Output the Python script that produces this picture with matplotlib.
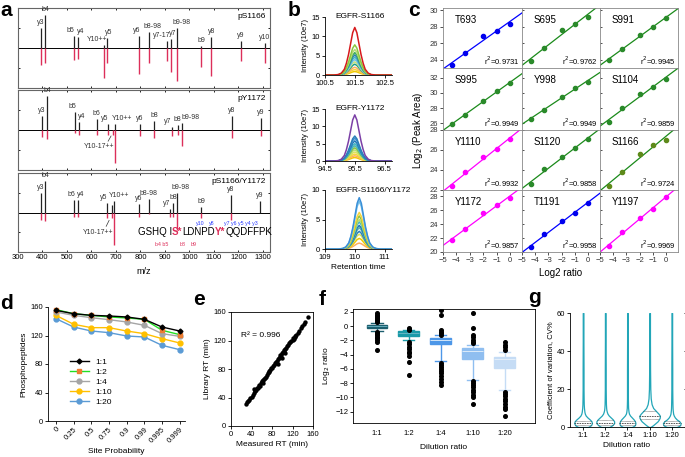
import numpy as np
import matplotlib.pyplot as plt

plt.rcParams['font.family'] = ['Liberation Sans', 'DejaVu Sans']
plt.rcParams['font.size'] = 6
plt.rcParams['axes.linewidth'] = 0.6
plt.rcParams['xtick.major.width'] = 0.6
plt.rcParams['ytick.major.width'] = 0.6
plt.rcParams['xtick.major.size'] = 2
plt.rcParams['ytick.major.size'] = 2
plt.rcParams['xtick.major.pad'] = 1.5
plt.rcParams['ytick.major.pad'] = 1.5
plt.rcParams['xtick.labelsize'] = 5.5
plt.rcParams['ytick.labelsize'] = 5.5

# ---------------- data ----------------
# panel a: (m/z, up intensity, down intensity, label)
spec1 = [(393, .50, .42, 'y3'), (412, .82, .38, 'b4'), (528, .30, .30, 'b5'), (545, .28, .28, 'y4'),
         (651, .08, .75, 'Y10++'), (663, .25, .38, 'y5'), (793, .30, .65, 'y6'), (836, .40, .38, 'b8-98'),
         (907, .18, .32, 'y7-17'), (926, .22, .60, 'y7'), (951, .50, .82, 'b9-98'), (1049, .05, .48, 'b9'),
         (1089, .28, .70, 'y8'), (1210, .18, .32, 'y9'), (1308, .12, .38, 'y10')]
spec2 = [(398, .35, .18, 'y3'), (418, .85, .22, 'b4'), (532, .45, .08, 'b5'), (548, .20, .12, 'y4'),
         (622, .28, .12, 'b6'), (667, .15, .12, 'y5'), (688, .0, .12, ''), (697, .15, .82, 'Y10++'),
         (797, .15, .15, 'y6'), (856, .22, .20, 'b8'), (927, .08, .15, 'y7'), (953, .12, .12, 'b8'),
         (971, .18, .40, 'b9-98'), (1173, .35, .20, 'y8'), (1292, .30, .15, 'y9')]
spec3 = [(393, .50, .20, 'y3'), (412, .80, .22, 'b4'), (528, .32, .12, 'b6'), (545, .32, .12, 'y4'),
         (663, .25, .15, 'y5'), (683, .18, .15, ''), (694, .30, .82, 'Y10++'), (793, .22, .12, 'y6'),
         (834, .35, .05, 'b8-98'), (922, .08, .12, 'y7'), (931, .25, .12, 'b8'), (950, .50, .45, 'b9-98'),
         (1049, .15, .15, 'b9'), (1170, .44, .20, 'y8'), (1288, .30, .0, 'y9')]
spec_titles = ['pS1166', 'pY1172', 'pS1166/Y1172']
mz_ticks = [300, 400, 500, 600, 700, 800, 900, 1000, 1100, 1200, 1300]

# panel b: peak profile shape (relative rt offset, relative intensity) and peak heights
prof_x = [-1.3, -0.70, -0.55, -0.45, -0.35, -0.28, -0.21, -0.14, -0.07, 0.0, 0.07, 0.14, 0.21,
          0.28, 0.35, 0.45, 0.55, 0.70, 1.4]
prof_y = [0, 0.00, 0.01, 0.04, 0.12, 0.25, 0.43, 0.66, 0.89, 1.00, 0.89, 0.66, 0.43,
          0.25, 0.12, 0.04, 0.01, 0.00, 0]
b_titles = ['EGFR-S1166', 'EGFR-Y1172', 'EGFR-S1166/Y1172']
b_centers = [101.5, 95.5, 110.15]
b_starts = [100.5, 94.5, 109]
b_ymax = [15, 15, 10]
b1_heights = [12.3, 7.8, 6.6, 5.8, 5.2, 4.6, 4.0, 3.4, 2.8, 2.0, 1.4, 0.9]
b1_colors = ['#d7191c', '#8cc63f', '#b5dd74', '#41ab5d', '#2c7fb8', '#41b6c4', '#74c0e8',
             '#c7e37a', '#1f9e89', '#fdae61', '#f6d43c', '#f0c800']
b2_heights = [13.3, 7.2, 6.6, 5.8, 5.0, 4.4, 3.8, 3.2, 2.6, 2.0, 1.5, 1.0]
b2_colors = ['#7b3fa6', '#2c7fb8', '#3d8fd0', '#1f78b4', '#41b6c4', '#5ab4ac', '#8cc63f',
             '#b5dd74', '#d9e35a', '#f6d43c', '#fdae61', '#f0c800']
b3_heights = [8.7, 8.1, 6.2, 5.6, 5.0, 4.6, 4.0, 3.6, 3.0, 2.5, 1.8, 1.0]
b3_colors = ['#3a8fd8', '#74c0e8', '#f6d43c', '#8cc63f', '#b5dd74', '#41b6c4', '#1f78b4',
             '#5ab4ac', '#2c7fb8', '#d9e35a', '#f0c800', '#fdae61']

# panel c
c_x = [-4.32, -3.32, -2, -1, 0]
c_names = [['T693', 'S695', 'S991'], ['S995', 'Y998', 'S1104'],
           ['Y1110', 'S1120', 'S1166'], ['Y1172', 'T1191', 'Y1197']]
c_r2 = [['0.9731', '0.9762', '0.9945'], ['0.9949', '0.9949', '0.9859'],
        ['0.9932', '0.9858', '0.9724'], ['0.9857', '0.9958', '0.9969']]
c_vals = {
    'T693': [23.4, 24.8, 26.9, 27.5, 28.3],
    'S695': [23.9, 25.4, 27.6, 28.3, 29.2],
    'S991': [24.0, 25.3, 27.0, 28.0, 29.0],
    'S995': [25.9, 27.1, 29.0, 30.2, 31.3],
    'Y998': [26.6, 27.8, 29.4, 30.7, 31.5],
    'S1104': [26.2, 28.0, 29.8, 30.8, 31.9],
    'Y1110': [22.4, 23.8, 25.3, 26.1, 27.1],
    'S1120': [22.6, 24.1, 25.3, 26.2, 27.1],
    'S1166': [22.4, 23.8, 25.6, 26.5, 27.0],
    'Y1172': [21.7, 23.3, 25.6, 26.8, 27.7],
    'T1191': [20.7, 22.6, 24.4, 25.6, 27.1],
    'Y1197': [20.9, 22.8, 24.9, 26.2, 27.9],
}
c_kind = {'T693': 'blue', 'T1191': 'blue', 'Y1110': 'mag', 'Y1172': 'mag', 'Y1197': 'mag'}
c_ylims = [(23.0, 30.25), (25.1, 33.3), (22, 28), (20, 28.9)]
c_yticks = [[24, 26, 28, 30], [26, 28, 30, 32], [22, 24, 26, 28], [20, 22, 24, 26, 28]]

# panel d
d_cats = ['0', '0.25', '0.5', '0.75', '0.9', '0.99', '0.995', '0.999']
d_series = {
    '1:1': [155.3, 150.6, 148.3, 147.4, 146.0, 142.7, 131.9, 126.3],
    '1:2': [156.3, 150.6, 148.3, 146.0, 144.6, 142.7, 127.3, 121.2],
    '1:4': [153.0, 148.3, 145.0, 142.2, 139.0, 134.3, 122.6, 118.8],
    '1:10': [148.3, 135.7, 131.0, 131.0, 126.3, 122.6, 115.6, 109.5],
    '1:20': [143.6, 131.9, 126.3, 124.0, 119.3, 117.9, 106.2, 100.1],
}

# panel e
meas_rt = [30, 32, 34, 36, 38, 40, 42, 44, 45, 47, 48, 50, 52, 54, 55, 57, 58, 60, 61, 63, 65, 66,
           68, 70, 72, 74, 75, 77, 79, 80, 82, 84, 85, 87, 88, 90, 91, 93, 95, 96, 98, 100, 101, 103,
           104, 106, 108, 110, 112, 114, 116, 118, 120, 122, 124, 125, 127, 130, 133, 136, 139, 142,
           145, 150, 46, 62, 92, 99, 105, 121]
lib_rt = [31, 33, 35, 37, 40, 41, 44, 46, 52, 49, 51, 53, 54, 56, 57, 56, 60, 63, 62, 64, 66, 68,
          69, 72, 74, 76, 77, 79, 81, 82, 84, 86, 88, 89, 90, 91, 94, 95, 97, 99, 100, 102, 104, 104,
          107, 108, 110, 112, 114, 116, 118, 120, 121, 122, 125, 126, 128, 131, 134, 137, 141, 143,
          146, 153, 50, 60, 87, 96, 103, 124]

# panel f: box statistics of log2 ratio
f_labels = ['1:1', '1:2', '1:4', '1:10', '1:20']
f_med = [0.0, -1.0, -1.9, -3.5, -4.6]
f_q1 = [-0.33, -1.35, -2.55, -4.6, -5.9]
f_q3 = [0.22, -0.75, -1.65, -3.1, -4.3]
f_lo = [-0.7, -2.0, -4.9, -7.5, -9.0]
f_hi = [0.5, -0.6, -1.3, -2.6, -3.6]
f_fliers = [
    [1.8, 1.6, 1.4, 1.25, 1.1, 1.0, 0.9, 0.8, 0.7, 0.6, -0.8, -0.95, -1.1, -1.3, -1.5, -1.7, -2.0, -2.3, -3.4],
    [-0.25, -0.35, -0.5, -2.2, -2.5, -2.9, -3.2, -3.6, -3.8, -4.2, -5.0, -6.9],
    [2.2, 1.5, -0.6, -0.8, -1.0, -1.2, -5.2, -5.5, -5.8, -6.0, -6.3, -6.6, -7.0, -7.4, -7.8, -8.2],
    [1.8, -0.2, -1.2, -1.5, -1.9, -2.2, -2.4, -7.7, -8.0, -8.2, -8.5, -9.0, -9.3, -9.6, -10.0, -10.9],
    [-2.2, -2.6, -3.0, -3.3, -9.2, -9.5, -9.8, -10.2, -10.5, -10.9, -11.3, -11.7, -12.6],
]
f_colors = ['#1b5e6e', '#1a9aa8', '#4d97e8', '#8fbef0', '#c5dcf5']

# panel g: violin half-width profiles of CV%
g_levels = [0, 0.5, 1, 2, 3, 4, 5, 6, 7, 8, 9, 10, 12, 15, 20, 30, 45, 60]
g_widths = [
    [0.22, 0.30, 0.36, 0.40, 0.38, 0.30, 0.20, 0.12, 0.08, 0.06, 0.05, 0.04, 0.03, 0.025, 0.02, 0.02, 0.015, 0.015],
    [0.18, 0.26, 0.32, 0.40, 0.40, 0.34, 0.25, 0.16, 0.10, 0.07, 0.05, 0.04, 0.03, 0.025, 0.02, 0.02, 0.015, 0.015],
    [0.20, 0.28, 0.34, 0.36, 0.34, 0.28, 0.20, 0.12, 0.07, 0.05, 0.04, 0.03, 0.025, 0.02, 0.02, 0.02, 0.015, 0.015],
    [0.04, 0.10, 0.16, 0.26, 0.36, 0.42, 0.46, 0.46, 0.40, 0.32, 0.24, 0.16, 0.09, 0.05, 0.03, 0.02, 0.015, 0.015],
    [0.22, 0.32, 0.38, 0.40, 0.34, 0.22, 0.14, 0.09, 0.06, 0.05, 0.04, 0.035, 0.03, 0.025, 0.02, 0.02, 0.015, 0.015],
]
g_med = [2.0, 2.2, 2.0, 6.0, 2.0]
g_q1 = [1.2, 1.3, 1.2, 4.2, 1.0]
g_q3 = [3.2, 3.5, 3.3, 8.2, 3.0]

# ---------------- layout ----------------
W, H = 685, 457
fig = plt.figure(figsize=(6.85, 4.57), dpi=100)


def px_axes(x0, y0, x1, y1):
    return fig.add_axes([x0 / W, 1 - y1 / H, (x1 - x0) / W, (y1 - y0) / H])


def letter(x, y, s):
    fig.text(x / W, 1 - y / H, s, fontsize=15, fontweight='bold', va='baseline')


RED = '#dc2f5a'
# horizontal label nudges (m/z units) so peak labels do not collide
nudge = [{528: -14, 545: 10, 651: -28, 663: 6, 793: -10, 836: 14, 907: -22, 926: 6, 951: 16},
         {532: -8, 548: 10, 667: -14, 697: 26, 927: -14, 953: -2, 971: 34},
         {528: -12, 545: 10, 663: -14, 694: 20, 922: -16, 931: 4, 950: 14}]

# ---- a: spectra ----
box_rows = [(8, 88), (90, 170), (173, 252)]
for k, (spec, title) in enumerate(zip([spec1, spec2, spec3], spec_titles)):
    ax = px_axes(18, box_rows[k][0], 270, box_rows[k][1])
    ax.set_xlim(300, 1329)
    ax.set_ylim(-1, 1)
    ax.axhline(0, color='k', lw=0.7)
    for mz, up, dn, lab in spec:
        if up > 0:
            ax.vlines(mz, 0, up, color='#222222', lw=0.9)
        if dn > 0:
            ax.vlines(mz, -dn, 0, color=RED, lw=1.0)
        if lab:
            ax.text(mz + nudge[k].get(mz, 0), up + 0.05, lab, fontsize=5, ha='center',
                    va='bottom', color='#333333')
    ax.text(0.985, 0.89, title, transform=ax.transAxes, ha='right', va='center', fontsize=6)
    ax.set_xticks(mz_ticks)
    ax.set_yticks([-1, -0.5, 0, 0.5, 1])
    ax.tick_params(direction='in', length=1.5, labelleft=False, top=True, right=True,
                   labelbottom=(k == 2))
    for s in ax.spines.values():
        s.set_color('#666666')
        s.set_linewidth(0.8)
    if k == 2:
        ax.set_xlabel('m/z', fontsize=6.5, labelpad=4)
        # annotated peptide sequence
        t = ax.text(790, -0.5, 'GSHQ I', fontsize=7, va='center')
        for seg, col in [('S*', RED), ('LDNPD', 'k'), ('Y*', RED), ('QQDFFPK', 'k')]:
            t = ax.annotate(seg, xycoords=t, xy=(1, 0), va='bottom', fontsize=7, color=col,
                            fontweight='bold' if col == RED else 'normal')
        for x, s in [(1043, 'y10'), (1090, 'y8'), (1210, 'y7 y6 y5 y4 y3')]:
            ax.text(x, -0.27, s, fontsize=3.8, color='#2b3cff', ha='center', va='center')
        for x, s in [(888, 'b4 b5'), (973, 'b8'), (1018, 'b9')]:
            ax.text(x, -0.82, s, fontsize=3.8, color=RED, ha='center', va='center')
        ax.text(628, -0.5, 'Y10-17++', fontsize=5, ha='center', va='center', color='#333333')
        ax.plot([660, 672], [-0.35, -0.2], color='#333333', lw=0.5)
    if k == 1:
        ax.text(630, -0.42, 'Y10-17++', fontsize=5, ha='center', va='center', color='#333333')
        ax.plot([668, 680], [-0.28, -0.15], color='#333333', lw=0.5)
letter(0, 16, 'a')

# ---- b: chromatograms ----
b_rows = [(17, 75), (109, 161), (190, 249)]
for k in range(3):
    ax = px_axes(325, b_rows[k][0], 392, b_rows[k][1])
    heights = [b1_heights, b2_heights, b3_heights][k]
    colors = [b1_colors, b2_colors, b3_colors][k]
    c0 = b_centers[k]
    for h, col in list(zip(heights, colors))[::-1]:
        ax.plot([c0 + dx for dx in prof_x], [h * p for p in prof_y], color=col, lw=1.1)
    ax.set_xlim(b_starts[k], b_starts[k] + 2.25)
    ax.set_ylim(0, b_ymax[k])
    ax.set_xticks([b_starts[k], b_starts[k] + 1, b_starts[k] + 2])
    if k < 2:
        ax.set_xticklabels(['%.1f' % v for v in ax.get_xticks()])
        ax.set_yticks([0, 5, 10, 15])
    else:
        ax.set_xticklabels(['109', '110', '111'])
        ax.set_yticks([0, 5, 10])
    ax.spines['top'].set_visible(False)
    ax.spines['right'].set_visible(False)
    ax.set_ylabel('Intensity (10e7)', fontsize=5.5, labelpad=2)
    ax.text(0.16, 1.0, b_titles[k], transform=ax.transAxes, fontsize=6, va='center')
    if k == 2:
        ax.set_xlabel('Retention time', fontsize=6, labelpad=2)
letter(288, 16, 'b')

# ---- c: linearity ----
col_edges = [443, 522, 600, 678]
row_edges = [8, 68, 130, 190, 252]
cmap_line = {'blue': '#0000ff', 'mag': '#ff00ff', 'green': '#1a8a1a'}
cmap_pt = {'blue': '#0000ee', 'mag': '#ff00ff', 'green': '#2a8a2a'}
for r in range(4):
    for cidx in range(3):
        ax = px_axes(col_edges[cidx], row_edges[r], col_edges[cidx + 1], row_edges[r + 1])
        name = c_names[r][cidx]
        kind = c_kind.get(name, 'green')
        ys = c_vals[name]
        slope, icpt = np.polyfit(c_x, ys, 1)
        xl = np.array([-5.5, 1.5])
        ax.plot(xl, slope * xl + icpt, color=cmap_line[kind], lw=0.9)
        pc = '#5e8a1a' if name == 'S1166' else cmap_pt[kind]
        ax.plot(c_x, ys, 'o', color=pc, ms=3)
        ax.set_xlim(-5, 0.9)
        ax.set_ylim(*c_ylims[r])
        ax.set_yticks(c_yticks[r])
        ax.set_xticks([-5, -4, -3, -2, -1, 0])
        ax.text(0.15, 0.8, name, transform=ax.transAxes, fontsize=7, va='center')
        ax.text(0.97, 0.12, 'r$^2$=' + c_r2[r][cidx], transform=ax.transAxes, fontsize=5.5,
                ha='right', va='center')
        for s in ax.spines.values():
            s.set_color('#888888')
        ax.tick_params(labelbottom=(r == 3), bottom=(r == 3), labelleft=(cidx == 0),
                       direction='out', colors='#333333')
        if cidx > 0:
            ax.tick_params(axis='y', direction='in', length=1.5)
        if r == 3 and cidx == 1:
            ax.set_xlabel('Log2 ratio', fontsize=7, labelpad=3)
fig.text(418 / W, 1 - 130 / H, 'Log$_2$ (Peak Area)', rotation=90, fontsize=7,
         ha='center', va='center')
letter(408, 16, 'c')

# ---- d: site probability ----
ax = px_axes(48, 307, 185, 421)
d_style = {
    '1:1': dict(color='black', marker='D', mfc='black', mec='black', ms=2.5),
    '1:2': dict(color='#22e022', marker='s', mfc='#ed7d31', mec='#ed7d31', ms=3.5),
    '1:4': dict(color='#a5a5a5', marker='o', mfc='#a5a5a5', mec='#a5a5a5', ms=3.5),
    '1:10': dict(color='#ffc000', marker='o', mfc='#ffc000', mec='#ffc000', ms=3.5),
    '1:20': dict(color='#5b9bd5', marker='o', mfc='#5b9bd5', mec='#5b9bd5', ms=3.5),
}
xpos = np.arange(len(d_cats))
for lab in ['1:20', '1:10', '1:4', '1:2', '1:1']:
    ax.plot(xpos, d_series[lab], lw=1.0, label=lab, **d_style[lab])
h, l = ax.get_legend_handles_labels()
ax.legend(h[::-1], l[::-1], loc='upper left', bbox_to_anchor=(0.12, 0.6), frameon=False,
          fontsize=6, handlelength=2.2, labelspacing=0.25, borderpad=0.2)
ax.set_xlim(-0.45, 7.3)
ax.set_ylim(0, 160)
ax.set_yticks([0, 40, 80, 120, 160])
ax.set_xticks(xpos)
ax.set_xticklabels(d_cats, rotation=45, ha='right', rotation_mode='anchor')
ax.spines['top'].set_visible(False)
ax.spines['right'].set_visible(False)
ax.set_ylabel('Phosphopeptides', fontsize=6, labelpad=2)
ax.set_xlabel('Site Probability', fontsize=6, labelpad=3)
letter(0, 309, 'd')

# ---- e: retention time ----
ax = px_axes(231, 312, 313, 426)
ax.scatter(meas_rt, lib_rt, s=10, color='black', linewidths=0)
ax.set_xlim(0, 160)
ax.set_ylim(0, 160)
ax.set_xticks([0, 40, 80, 120, 160])
ax.set_yticks([0, 40, 80, 120, 160])
ax.text(0.12, 0.79, 'R² = 0.996', transform=ax.transAxes, fontsize=6, va='center')
ax.set_xlabel('Measured RT (min)', fontsize=6, labelpad=2)
ax.set_ylabel('Library RT (min)', fontsize=6, labelpad=2)
letter(193, 305, 'e')

# ---- f: log2 ratio boxes ----
ax = px_axes(353, 309, 535, 423)
stats = []
for i in range(5):
    stats.append(dict(med=f_med[i], q1=f_q1[i], q3=f_q3[i], whislo=f_lo[i], whishi=f_hi[i],
                      fliers=f_fliers[i], label=f_labels[i]))
pos = np.arange(1, 6)
bp = ax.bxp(stats, positions=pos, widths=0.65, patch_artist=True, showfliers=True,
            capwidths=0.35,
            flierprops=dict(marker='o', mfc='black', mec='black', ms=2.6, ls='none'))
for i in range(5):
    bp['boxes'][i].set_facecolor(f_colors[i])
    bp['boxes'][i].set_edgecolor(f_colors[i])
    bp['medians'][i].set_color('#6fb8c8' if i < 2 else '#e8f2fb')
    bp['medians'][i].set_linewidth(0.6)
    for j in (2 * i, 2 * i + 1):
        bp['whiskers'][j].set_color(f_colors[i])
        bp['caps'][j].set_color(f_colors[i])
ax.set_xlim(0.25, 5.95)
ax.set_ylim(-13.6, 2.4)
ax.set_yticks([2, 0, -2, -4, -6, -8, -10, -12])
ax.set_xticks(pos)
ax.set_xticklabels(f_labels)
ax.tick_params(axis='x', length=0, pad=5)
ax.set_xlabel('Dilution ratio', fontsize=6, labelpad=5)
ax.set_ylabel('Log$_2$ ratio', fontsize=6, labelpad=2)
letter(319, 305, 'f')

# ---- g: CV violins ----
ax = px_axes(570, 313, 684, 427)
TEAL = '#22a6b8'
for i in range(5):
    p = i + 1
    hw = np.array(g_widths[i])
    ax.fill_betweenx(g_levels, p - hw, p + hw, facecolor='white', edgecolor=TEAL, lw=0.9)
    wm = np.interp(g_med[i], g_levels, hw)
    ax.plot([p - wm, p + wm], [g_med[i], g_med[i]], color='#444444', lw=0.6, ls=(0, (2, 1)))
    for q in (g_q1[i], g_q3[i]):
        wq = np.interp(q, g_levels, hw)
        ax.plot([p - wq, p + wq], [q, q], color='#444444', lw=0.5, ls=(0, (0.8, 0.8)))
ax.set_xlim(0.41, 5.55)
ax.set_ylim(0, 60)
ax.set_yticks([0, 20, 40, 60])
ax.set_xticks(range(1, 6))
ax.set_xticklabels(f_labels)
ax.spines['top'].set_visible(False)
ax.spines['right'].set_visible(False)
ax.tick_params(axis='y', right=True)
ax.set_xlabel('Dilution ratio', fontsize=6, labelpad=2)
ax.set_ylabel('Coefficient of variation, CV%', fontsize=5.5, labelpad=2)
letter(528, 303, 'g')

fig.savefig('out.png', dpi=100)
